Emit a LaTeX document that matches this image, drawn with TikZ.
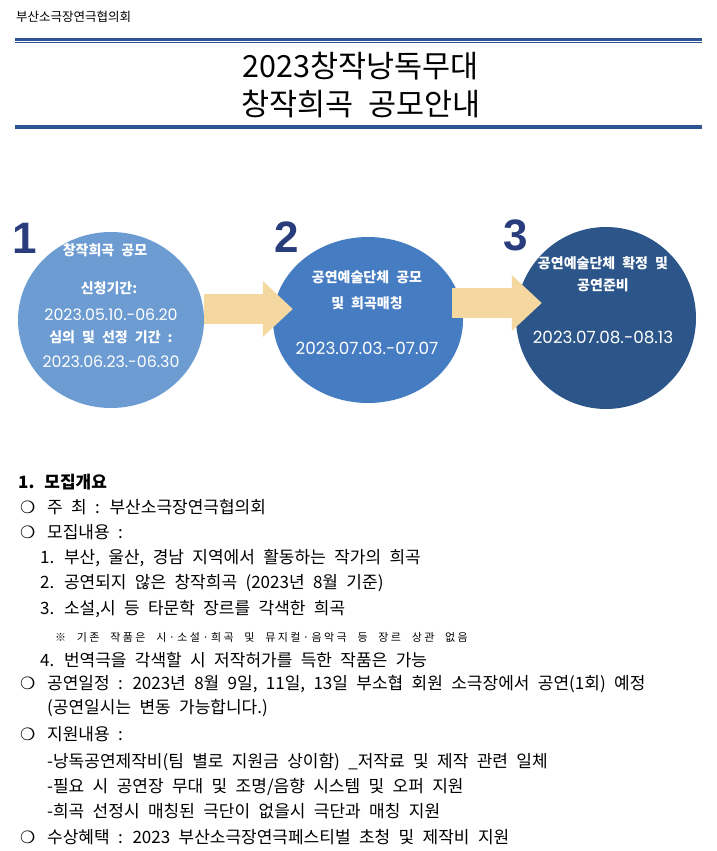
\documentclass[tikz,border=0pt]{standalone}
\usepackage{fontspec}
\setmainfont{Noto Sans CJK KR}[WordSpace=2.2]
\newfontfamily\bulletfont{DejaVu Sans}
\newfontfamily\datefont{Poppins}
\newfontfamily\numfont{Liberation Sans}
\usetikzlibrary{shapes.geometric,arrows.meta}
\definecolor{rulebl}{RGB}{47,84,146}
\definecolor{stepa}{RGB}{108,156,210}
\definecolor{stepb}{RGB}{69,124,194}
\definecolor{stepc}{RGB}{44,86,138}
\definecolor{numbl}{RGB}{41,61,125}
\definecolor{flowtan}{RGB}{245,215,160}

\begin{document}
\begin{tikzpicture}[x=1pt, y=-1pt,
  stepcirc/.style={ellipse, inner sep=0pt, draw=none},
  steptext/.style={anchor=base, inner sep=0pt, text=white, font=\bfseries\fontsize{14}{16}\selectfont},
  stepdate/.style={anchor=base, inner sep=0pt, text=white, font=\datefont\fontsize{15.8}{18}\selectfont},
  stepnum/.style={anchor=base, inner sep=0pt, text=numbl, font=\numfont\bfseries\fontsize{44}{44}\selectfont},
  flow/.style={draw=flowtan, color=flowtan, line width=30pt, -{Triangle[length=30pt, width=54pt]}},
  txt/.style={anchor=base west, inner sep=0pt, font=\fontsize{17}{20}\selectfont},
  bul/.style={anchor=base west, inner sep=0pt, font=\bulletfont\fontsize{17}{17}\selectfont}
]
\useasboundingbox (0,0) rectangle (717,851);

% header
\node[anchor=base west, inner sep=0pt, font=\fontsize{12.5}{14}\selectfont] (org) at (16,22) {부산소극장연극협의회};
\draw[rulebl, line width=2.8pt] (15,39.6) -- (702,39.6);
\draw[rulebl, line width=1pt] (15,42.3) -- (702,42.3);
\node[align=center, font=\fontsize{30.5}{38}\selectfont] (title) at (361,85) {2023창작낭독무대\\창작희곡 공모안내};
\draw[rulebl, line width=2.7pt] (15,126.3) -- (702,126.3);
\draw[rulebl, line width=1pt] (15,128.8) -- (702,128.8);

% steps
\node[stepcirc, fill=stepa, minimum width=186pt, minimum height=176pt] (c1) at (111,320) {};
\node[stepcirc, fill=stepb, minimum width=190pt, minimum height=166pt] (c2) at (368,320) {};
\node[stepcirc, fill=stepc, minimum width=180pt, minimum height=182pt] (c3) at (606,318) {};

\draw[flow] ([yshift=11pt]c1.east) -- ([xshift=20pt,yshift=11pt]c2.west);
\draw[flow] ([xshift=-11pt,yshift=17pt]c2.east) -- ([xshift=26pt,yshift=15pt]c3.west);

\node[stepnum] (n1) at (25,253) {1};
\node[stepnum] (n2) at (287,252) {2};
\node[stepnum] (n3) at (516,250) {3};

\node[steptext] (c1a) at (105,255) {창작희곡 공모};
\node[steptext] (c1b) at (109,293) {신청기간:};
\node[stepdate] (c1c) at (111,320) {2023.05.10.-06.20};
\node[steptext] (c1d) at (111,342) {심의 및 선정 기간 :};
\node[stepdate] (c1e) at (111,367) {2023.06.23.-06.30};

\node[steptext] (c2a) at (367,282) {공연예술단체 공모};
\node[steptext] (c2b) at (367,308) {및 희곡매칭};
\node[stepdate, font=\datefont\fontsize{16.8}{18}\selectfont] (c2c) at (367,354) {2023.07.03.-07.07};

\node[steptext] (c3a) at (603,268) {공연예술단체 확정 및};
\node[steptext] (c3b) at (603,290) {공연준비};
\node[stepdate, font=\datefont\fontsize{16.8}{18}\selectfont] (c3c) at (603,343) {2023.07.08.-08.13};

% list
\foreach \x/\y/\t [count=\i] in {
  18/488/{\bfseries 1. 모집개요},
  47/513/{주 최 : 부산소극장연극협의회},
  47/538/{모집내용 :},
  40/563/{1. 부산, 울산, 경남 지역에서 활동하는 작가의 희곡},
  40/588/{2. 공연되지 않은 창작희곡 (2023년 8월 기준)},
  40/614/{3. 소설,시 등 타문학 장르를 각색한 희곡},
  40/666/{4. 번역극을 각색할 시 저작허가를 득한 작품은 가능},
  47/689/{공연일정 : 2023년 8월 9일, 11일, 13일 부소협 회원 소극장에서 공연(1회) 예정},
  47/713/{(공연일시는 변동 가능합니다.)},
  47/740/{지원내용 :},
  47/767/{-낭독공연제작비(팀 별로 지원금 상이함) \_저작료 및 제작 관련 일체},
  47/792/{-필요 시 공연장 무대 및 조명/음향 시스템 및 오퍼 지원},
  47/817/{-희곡 선정시 매칭된 극단이 없을시 극단과 매칭 지원},
  47/843/{수상혜택 : 2023 부산소극장연극페스티벌 초청 및 제작비 지원}}
  \node[txt] (l\i) at (\x,\y) {\t};
\node[txt, font=\fontsize{11}{12}\selectfont\addfontfeature{LetterSpace=22}] (note) at (55,641) {※ 기존 작품은 시·소설·희곡 및 뮤지컬·음악극 등 장르 상관 없음};
\foreach \y [count=\i] in {513,538,689,740,843}
  \node[bul] (b\i) at (20,\y) {❍};
\end{tikzpicture}
\end{document}
